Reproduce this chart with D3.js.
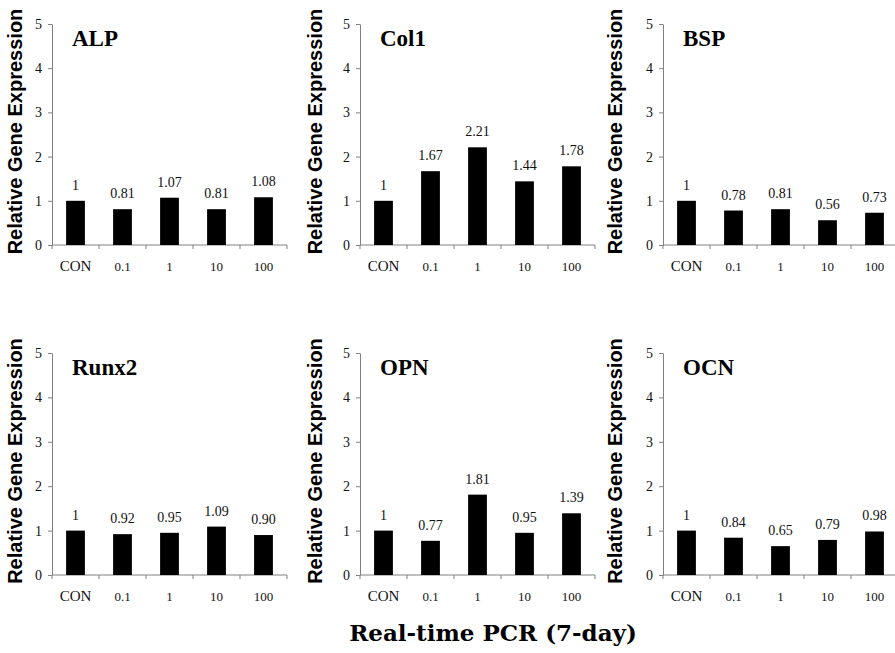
<!DOCTYPE html>
<html><head><meta charset="utf-8">
<script src="https://cdn.jsdelivr.net/npm/d3@7"></script>
<style>body{margin:0;background:#fff}svg{display:block}</style>
</head><body>
<script>
const categories = ["CON", "0.1", "1", "10", "100"];
const genes = ["ALP", "Col1", "BSP", "Runx2", "OPN", "OCN"];
const alpValues   = [1, 0.81, 1.07, 0.81, 1.08];
const col1Values  = [1, 1.67, 2.21, 1.44, 1.78];
const bspValues   = [1, 0.78, 0.81, 0.56, 0.73];
const runx2Values = [1, 0.92, 0.95, 1.09, 0.90];
const opnValues   = [1, 0.77, 1.81, 0.95, 1.39];
const ocnValues   = [1, 0.84, 0.65, 0.79, 0.98];
const yTicks = [0, 1, 2, 3, 4, 5];
const yTitle = "Relative Gene Expression";
const xTitle = "Real-time PCR (7-day)";

const seriesList = [alpValues, col1Values, bspValues, runx2Values, opnValues, ocnValues];

const W = 895, H = 653;
const svg = d3.select("body").append("svg").attr("width", W).attr("height", H);

const colOffset = [0, 300, 600];
const axisX = [52, 360, 663];
const rowTop = [24, 353];
const rowBottom = [245, 575];
const plotW = 235;
const serif = "'Liberation Serif', 'Times New Roman', serif";
const serifTitle = "'DejaVu Serif', Georgia, serif";

genes.forEach((gene, gi) => {
  const r = Math.floor(gi / 3), c = gi % 3;
  const values = seriesList[gi];
  const ax = axisX[c];
  const x = d3.scaleBand().domain(categories).range([ax, ax + plotW]).paddingInner(0.6).paddingOuter(0.3);
  const y = d3.scaleLinear().domain([0, 5]).range([rowBottom[r], rowTop[r]]);
  const g = svg.append("g");

  // y axis
  const yAxis = g.append("g").attr("transform", `translate(${ax},0)`)
    .call(d3.axisLeft(y).tickValues(yTicks).tickFormat(d3.format("d"))
      .tickSize(4).tickSizeOuter(0).tickPadding(6));
  yAxis.select(".domain").attr("stroke", "#808080");
  yAxis.selectAll(".tick line").attr("stroke", "#808080");
  yAxis.selectAll(".tick text").attr("font-family", serif).attr("font-size", 14).attr("fill", "#111");

  // x axis line
  g.append("line").attr("x1", ax).attr("x2", ax + plotW)
    .attr("y1", y(0)).attr("y2", y(0)).attr("stroke", "#808080");
  // boundary ticks
  const step = x.step();
  const bounds = categories.map(cat => x(cat) + x.bandwidth() / 2 - step / 2)
    .concat([x(categories[categories.length - 1]) + x.bandwidth() / 2 + step / 2]);
  g.selectAll(".bt").data(bounds).join("line")
    .attr("x1", d => d).attr("x2", d => d)
    .attr("y1", y(0)).attr("y2", y(0) + 4).attr("stroke", "#808080");
  // category labels
  g.selectAll(".cl").data(categories).join("text")
    .attr("x", d => x(d) + x.bandwidth() / 2)
    .attr("y", y(0) + 26)
    .attr("text-anchor", "middle")
    .attr("font-family", serif)
    .attr("font-size", d => d === "CON" ? 15 : 13)
    .attr("fill", "#111")
    .text(d => d);

  // bars
  g.selectAll(".bar").data(values).join("rect")
    .attr("x", (d, i) => x(categories[i]))
    .attr("width", x.bandwidth())
    .attr("y", d => y(d))
    .attr("height", d => y(0) - y(d))
    .attr("fill", "#000");

  // value labels
  g.selectAll(".vl").data(values).join("text")
    .attr("x", (d, i) => x(categories[i]) + x.bandwidth() / 2)
    .attr("y", d => y(d) - 11)
    .attr("text-anchor", "middle")
    .attr("font-family", serif)
    .attr("font-size", 14)
    .attr("fill", "#111")
    .text((d, i) => i === 0 ? "1" : d.toFixed(2));

  // panel title
  g.append("text")
    .attr("x", ax + 20).attr("y", rowTop[r] + 22)
    .attr("font-family", serif).attr("font-weight", "bold")
    .attr("font-size", 23).attr("fill", "#000")
    .text(gene);

  // y title
  const cy = (rowTop[r] + rowBottom[r]) / 2 - 3;
  g.append("text")
    .attr("transform", `translate(${colOffset[c] + 22},${cy}) rotate(-90)`)
    .attr("text-anchor", "middle")
    .attr("font-family", "'Liberation Sans', Arial, sans-serif")
    .attr("font-weight", "bold").attr("font-size", 20).attr("fill", "#000")
    .text(yTitle);
});

svg.append("text")
  .attr("x", 493).attr("y", 641)
  .attr("text-anchor", "middle")
  .attr("font-family", serifTitle).attr("font-weight", "bold")
  .attr("font-size", 23).attr("fill", "#000")
  .text(xTitle);
</script>
</body></html>
